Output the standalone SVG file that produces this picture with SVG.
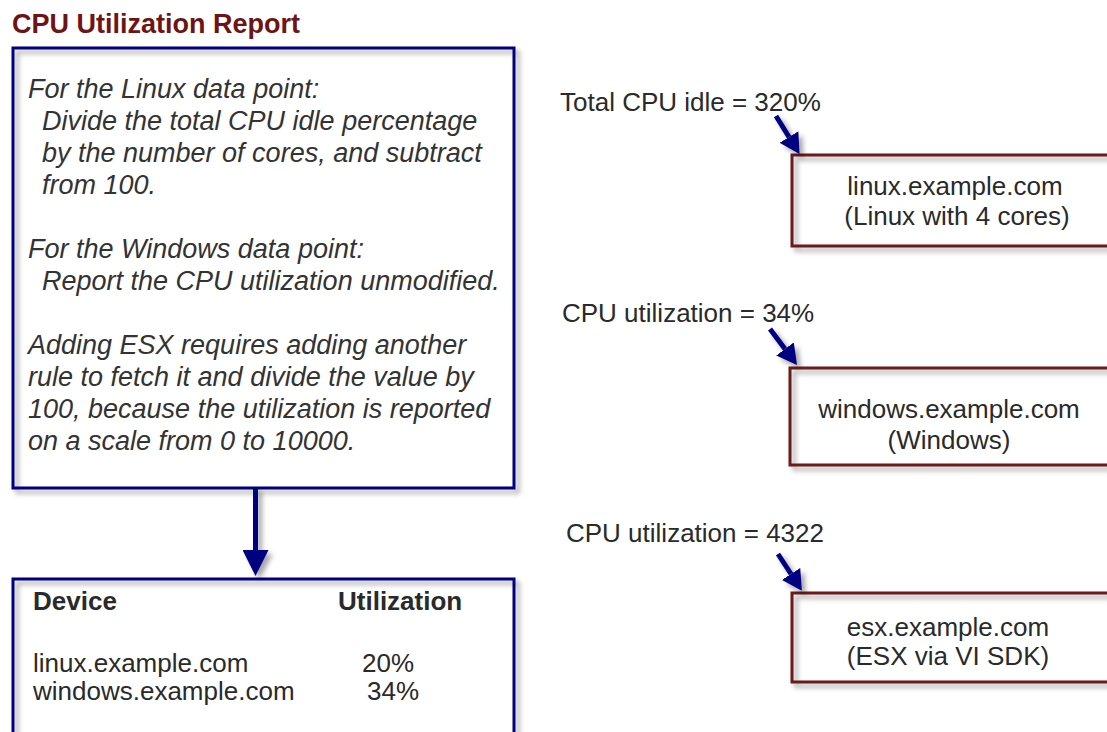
<svg xmlns="http://www.w3.org/2000/svg" width="1107" height="732" viewBox="0 0 1107 732">
  <style>
    text { font-family: "Liberation Sans", Arial, sans-serif; font-size: 26px; fill: #2a2a2a; }
    .title { font-weight: bold; fill: #6e1414; font-size: 27px; }
    .note { font-style: italic; fill: #333333; font-size: 27px; }
    .bold { font-weight: bold; }
    .mid { text-anchor: middle; }
    .blue { fill: none; stroke: #000080; stroke-width: 3; }
    .dev { fill: none; stroke: #6b1a1a; stroke-width: 3; }
    .conn { stroke: #000080; stroke-width: 5; fill: none; }
  </style>
  <defs>
    <filter id="sh" x="-10%" y="-10%" width="130%" height="130%">
      <feDropShadow dx="4" dy="4" stdDeviation="2.5" flood-color="#000" flood-opacity="0.35"/>
    </filter>
    <marker id="headS" markerUnits="userSpaceOnUse" viewBox="0 0 20 22" markerWidth="20" markerHeight="22" refX="0" refY="11" orient="auto">
      <path d="M0,0 L20,11 L0,22 z" fill="#000080"/>
    </marker>
    <marker id="headL" markerUnits="userSpaceOnUse" viewBox="0 0 26 26" markerWidth="26" markerHeight="26" refX="0" refY="13" orient="auto">
      <path d="M0,0 L26,13 L0,26 z" fill="#000080"/>
    </marker>
  </defs>
  <rect width="1107" height="732" fill="#ffffff"/>

  <text class="title" x="12" y="33">CPU Utilization Report</text>

  <g id="rules">
    <rect class="blue" x="13" y="48" width="501" height="440" filter="url(#sh)"/>
    <text class="note" x="28" y="98">For the Linux data point:</text>
    <text class="note" x="42" y="130">Divide the total CPU idle percentage</text>
    <text class="note" x="42" y="162">by the number of cores, and subtract</text>
    <text class="note" x="42" y="194">from 100.</text>
    <text class="note" x="28" y="258">For the Windows data point:</text>
    <text class="note" x="42" y="290">Report the CPU utilization unmodified.</text>
    <text class="note" x="28" y="354">Adding ESX requires adding another</text>
    <text class="note" x="28" y="386">rule to fetch it and divide the value by</text>
    <text class="note" x="28" y="418">100, because the utilization is reported</text>
    <text class="note" x="28" y="450">on a scale from 0 to 10000.</text>
  </g>

  <g id="report">
    <rect class="blue" x="13" y="579" width="501" height="170" filter="url(#sh)"/>
    <text class="bold" x="33" y="610">Device</text>
    <text class="bold" x="338" y="610">Utilization</text>
    <text x="33" y="672">linux.example.com</text>
    <text x="362" y="672">20%</text>
    <text x="33" y="700">windows.example.com</text>
    <text x="367" y="700">34%</text>
  </g>

  <g id="linux">
    <text x="560" y="111">Total CPU idle = 320%</text>
    <rect class="dev" x="792" y="155" width="330" height="91" filter="url(#sh)"/>
    <text class="mid" x="955" y="195">linux.example.com</text>
    <text class="mid" x="957" y="225">(Linux with 4 cores)</text>
  </g>

  <g id="windows">
    <text x="562" y="322">CPU utilization = 34%</text>
    <rect class="dev" x="790" y="368" width="330" height="97" filter="url(#sh)"/>
    <text class="mid" x="949" y="418">windows.example.com</text>
    <text class="mid" x="949" y="449">(Windows)</text>
  </g>

  <g id="esx">
    <text x="566" y="542">CPU utilization = 4322</text>
    <rect class="dev" x="792" y="593" width="330" height="89" filter="url(#sh)"/>
    <text class="mid" x="948" y="636">esx.example.com</text>
    <text class="mid" x="948" y="665">(ESX via VI SDK)</text>
  </g>

  <g id="connectors" filter="url(#sh)">
    <line class="conn" x1="255.5" y1="488" x2="255.5" y2="550" marker-end="url(#headL)"/>
    <line class="conn" x1="776" y1="116" x2="789" y2="137" marker-end="url(#headS)"/>
    <line class="conn" x1="770" y1="329" x2="785" y2="349" marker-end="url(#headS)"/>
    <line class="conn" x1="778" y1="554" x2="791" y2="574" marker-end="url(#headS)"/>
  </g>
</svg>
